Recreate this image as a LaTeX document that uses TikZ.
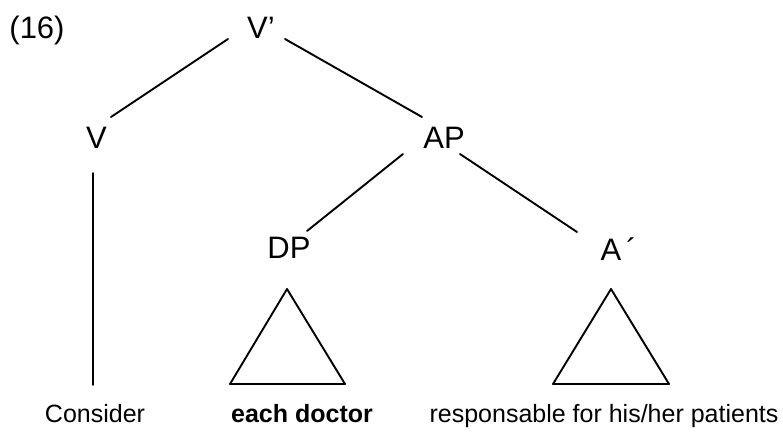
\documentclass[tikz,border=0pt]{standalone}
\usepackage{fontspec}
\setmainfont{Liberation Sans}
\usetikzlibrary{calc}
\tikzset{
  cat/.style={inner sep=0pt, font=\fontsize{31}{31}\selectfont},
  words/.style={inner sep=0pt, anchor=base, font=\fontsize{25}{25}\selectfont},
  branch/.style={line width=1.9pt, line cap=round, line join=round},
}
\begin{document}
\begin{tikzpicture}[x=1pt, y=-1pt]
  \useasboundingbox (0,0) rectangle (783,434);
  % example number
  \node[cat] (num) at (37,30) {(16)};
  % category labels
  \node[cat] (vp) at (257.5,28) {V\rlap{’}};
  \node[cat] (v)  at (96.5,138) {V};
  \node[cat] (ap) at (444,138) {AP};
  \node[cat] (dp) at (289,248) {DP};
  \node[cat] (abar) at (611,249) {A\rlap{\,´}};
  % terminal strings
  \node[words] (cons) at (95,422) {Consider};
  \node[words] (each) at (302,422) {\bfseries each doctor};
  \node[words] (resp) at (604,422) {responsable for his/her patients};
  % branches
  \draw[branch] ($(vp)+(-29.5,11)$) -- ($(v)+(14.5,-21)$);
  \draw[branch] ($(vp)+(27.5,11)$) -- ($(ap)+(-22,-21)$);
  \draw[branch] ($(ap)+(-41,16)$) -- ($(dp)+(18,-17)$);
  \draw[branch] ($(ap)+(16,16)$) -- ($(abar)+(-34,-17)$);
  \draw[branch] ($(v)+(-3.5,35)$) -- ($(v)+(-3.5,247)$);
  % triangles over the phrasal terminals
  \draw[branch] ($(dp)+(-2,41)$) -- ($(dp)+(-59,136)$) -- ($(dp)+(56,136)$) -- cycle;
  \draw[branch] ($(abar)+(0,40)$) -- ($(abar)+(-58,135)$) -- ($(abar)+(58,135)$) -- cycle;
\end{tikzpicture}
\end{document}
